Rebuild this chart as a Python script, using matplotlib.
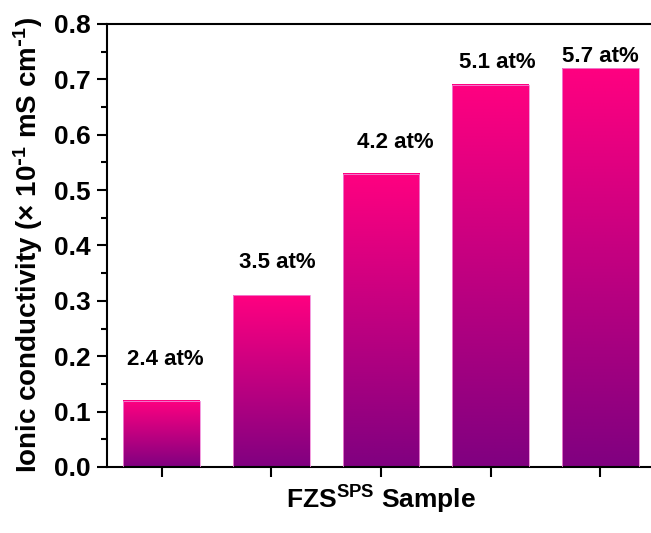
"""Bar chart of ionic conductivity for FZS SPS samples, gradient filled bars"""
import matplotlib
matplotlib.use('Agg')
import matplotlib.pyplot as plt
import numpy as np
from matplotlib.colors import LinearSegmentedColormap
from matplotlib.ticker import MultipleLocator

plt.rcParams['font.family'] = ['Liberation Sans', 'DejaVu Sans']
plt.rcParams['font.weight'] = 'bold'
plt.rcParams['mathtext.default'] = 'regular'

# data
samples = ['2.4 at%', '3.5 at%', '4.2 at%', '5.1 at%', '5.7 at%']
conductivity = [0.12, 0.31, 0.53, 0.69, 0.72]

# where the text labels sit (shift from bar centre, baseline height)
label_dx = [0.03, 0.05, 0.13, 0.06, 0.0]
label_y = [0.184, 0.359, 0.576, 0.720, 0.732]

# purple at the bottom of each bar, pink at the top
cmap = LinearSegmentedColormap.from_list('pinkpurple', ['#800080', '#ff0080'])

fig = plt.figure(figsize=(6.51, 5.33), dpi=100)
ax = fig.add_axes([107 / 651, 66 / 533, 548 / 651, 443 / 533])

x = np.arange(len(samples))
bars = ax.bar(x, conductivity, width=0.7, facecolor='none',
              edgecolor='#f08ad8', linewidth=0.6, zorder=3)

# fill each bar with its own vertical gradient
grad = np.linspace(0, 1, 256).reshape(-1, 1)
for b in bars:
    bx, bw, bh = b.get_x(), b.get_width(), b.get_height()
    ax.imshow(grad, extent=[bx, bx + bw, 0, bh], origin='lower',
              cmap=cmap, aspect='auto', zorder=2, interpolation='bilinear')

for i, lab in enumerate(samples):
    ax.text(x[i] + label_dx[i], label_y[i], lab, ha='center', va='baseline',
            fontsize=16, fontweight='bold')

ax.set_xlim(-0.5, 4.5)
ax.set_ylim(0, 0.8)
ax.set_xticks(x)
ax.set_xticklabels([])
ax.yaxis.set_major_locator(MultipleLocator(0.1))
ax.yaxis.set_minor_locator(MultipleLocator(0.05))
ax.yaxis.set_major_formatter(plt.FormatStrFormatter('%.1f'))

for s in ax.spines.values():
    s.set_linewidth(1.5)
ax.tick_params(axis='both', which='major', direction='out', length=7, width=1.5,
               labelsize=19, pad=5)
ax.tick_params(axis='y', which='minor', direction='out', length=4.5, width=1.5)
ax.tick_params(axis='x', which='minor', bottom=False)

ax.set_ylabel('Ionic conductivity (× 10$^{\\text{-}1}$ mS cm$^{\\text{-}1}$)', fontsize=20,
              fontweight='bold', labelpad=6)
ax.set_xlabel('FZS$^{SPS}$ Sample', fontsize=19, fontweight='bold', labelpad=0)

fig.savefig('out.png', dpi=100)
